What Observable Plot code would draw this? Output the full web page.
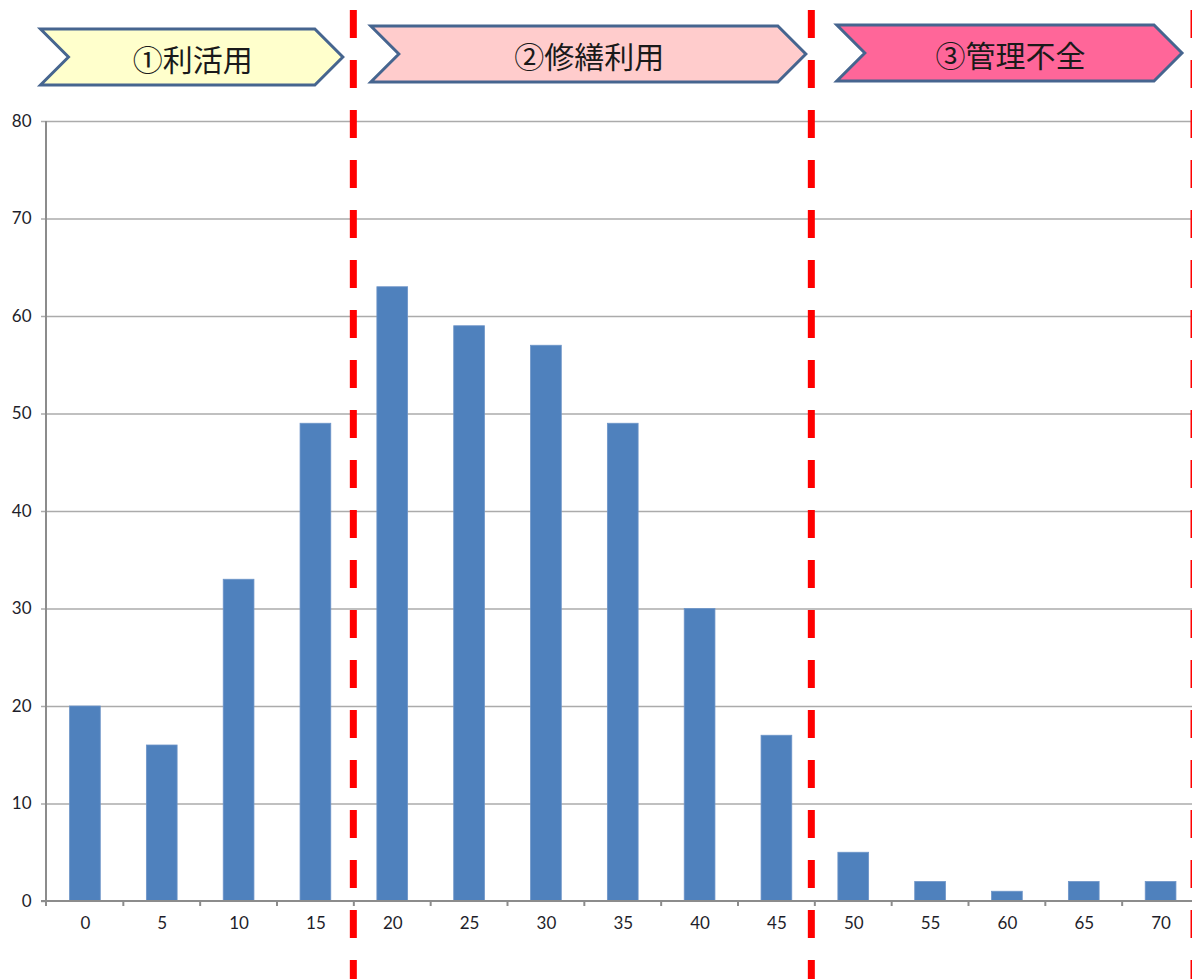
<!DOCTYPE html>
<html>
<head>
<meta charset="utf-8">
<script src="https://cdn.jsdelivr.net/npm/d3@7"></script>
<script src="https://cdn.jsdelivr.net/npm/@observablehq/plot@0.6"></script>
<style>
  html, body { margin: 0; padding: 0; background: #fff; }
  #chart svg { display: block; }
</style>
</head>
<body>
<div id="chart"></div>
<script>
// ---- data ----
const categories = ["0","5","10","15","20","25","30","35","40","45","50","55","60","65","70"];
const counts = [20, 16, 33, 49, 63, 59, 57, 49, 30, 17, 5, 2, 1, 2, 2];
const yTicks = [0, 10, 20, 30, 40, 50, 60, 70, 80];
const sectionLabels = ["①利活用", "②修繕利用", "③管理不全"];
const sectionFirst = ["0", "20", "50"];
const sectionLast = ["15", "45", "70"];

// ---- styles ----
const sectionFills = ["#FFFFCC", "#FFCCCC", "#FF6699"];
const bannerInsetL = [-6, 17, 22];
const bannerInsetR = [11, 9, 17];
const bannerTops = [29, 26, 25];
const barColor = "#4F81BD";
const gridColor = "#ABABAB";
const axisColor = "#8C8C8C";
const textColor = "#1E1E2A";

const data = categories.map((c, i) => ({cat: c, value: counts[i]}));

const W = 1192, H = 979;
const padInner = 0.6;

function decorations(index, scales, values, dims) {
  const x = scales.x, y = scales.y;
  const step = x(categories[1]) - x(categories[0]);
  const bw = step * (1 - padInner);
  const gap = step - bw;
  const left = c => x(c) - gap / 2;
  const right = c => x(c) + bw + gap / 2;
  const y0 = y(0), yTop = y(80);
  const g = d3.create("svg:g");

  // y axis line
  g.append("line").attr("x1", dims.marginLeft).attr("x2", dims.marginLeft)
    .attr("y1", yTop).attr("y2", y0 + 5)
    .attr("stroke", axisColor).attr("stroke-width", 2);
  // baseline
  g.append("line").attr("x1", dims.marginLeft - 5).attr("x2", W)
    .attr("y1", y0).attr("y2", y0)
    .attr("stroke", axisColor).attr("stroke-width", 2);
  // category boundary ticks
  categories.forEach(c => {
    g.append("line").attr("x1", right(c)).attr("x2", right(c))
      .attr("y1", y0).attr("y2", y0 + 5)
      .attr("stroke", axisColor).attr("stroke-width", 2);
  });

  // banners
  const hgt = 56, depth = 28;
  sectionLabels.forEach((lab, i) => {
    const top = bannerTops[i], bot = top + hgt, mid = top + hgt / 2;
    const xl = left(sectionFirst[i]) + bannerInsetL[i];
    const xr = right(sectionLast[i]) - bannerInsetR[i];
    const pts = [[xl, top], [xr - depth, top], [xr, mid], [xr - depth, bot], [xl, bot], [xl + depth, mid]];
    g.append("polygon").attr("points", pts.map(p => p.join(",")).join(" "))
      .attr("fill", sectionFills[i]).attr("stroke", "#46658F").attr("stroke-width", 3)
      .attr("stroke-linejoin", "miter");
    g.append("text").attr("x", (xl + xr) / 2 + 1).attr("y", mid + 1)
      .attr("text-anchor", "middle").attr("dominant-baseline", "central")
      .attr("font-family", "'Noto Sans CJK JP', sans-serif").attr("font-size", 30)
      .attr("fill", "#1a1a1a").text(lab);
  });

  // red dashed separators
  const seps = [
    (right(sectionLast[0]) + left(sectionFirst[1])) / 2 - 0.5,
    (right(sectionLast[1]) + left(sectionFirst[2])) / 2 - 3.5,
    right(sectionLast[2]) - 5
  ];
  seps.forEach(sx => {
    g.append("line").attr("x1", sx).attr("x2", sx).attr("y1", 10).attr("y2", H)
      .attr("stroke", "#FF0000").attr("stroke-width", 7)
      .attr("stroke-dasharray", "28,22");
  });
  return g.node();
}

const chart = Plot.plot({
  width: W,
  height: H,
  marginLeft: 46,
  marginTop: 121,
  marginBottom: 78,
  marginRight: 0,
  style: {background: "#fff", fontFamily: "Lato, 'Open Sans', sans-serif", fontSize: "17px", color: textColor},
  x: {domain: categories, range: [46.5, 1199], round: false, paddingInner: padInner, paddingOuter: padInner / 2, label: null},
  y: {domain: [0, 80], label: null},
  marks: [
    Plot.ruleY(yTicks.filter(t => t > 0), {y: d => d, stroke: gridColor, strokeWidth: 1.5}),
    Plot.barY(data, {x: "cat", y: "value", fill: barColor, stroke: "#6E95C8", strokeWidth: 0.8}),
    Plot.axisY({ticks: yTicks, tickSize: 5, tickPadding: 10, stroke: gridColor, strokeWidth: 1.5, fontSize: 17, fill: textColor, label: null}),
    Plot.axisX({tickSize: 0, tickPadding: 15, fontSize: 17, fill: textColor, label: null}),
    decorations
  ]
});
document.getElementById("chart").appendChild(chart);
</script>
</body>
</html>
